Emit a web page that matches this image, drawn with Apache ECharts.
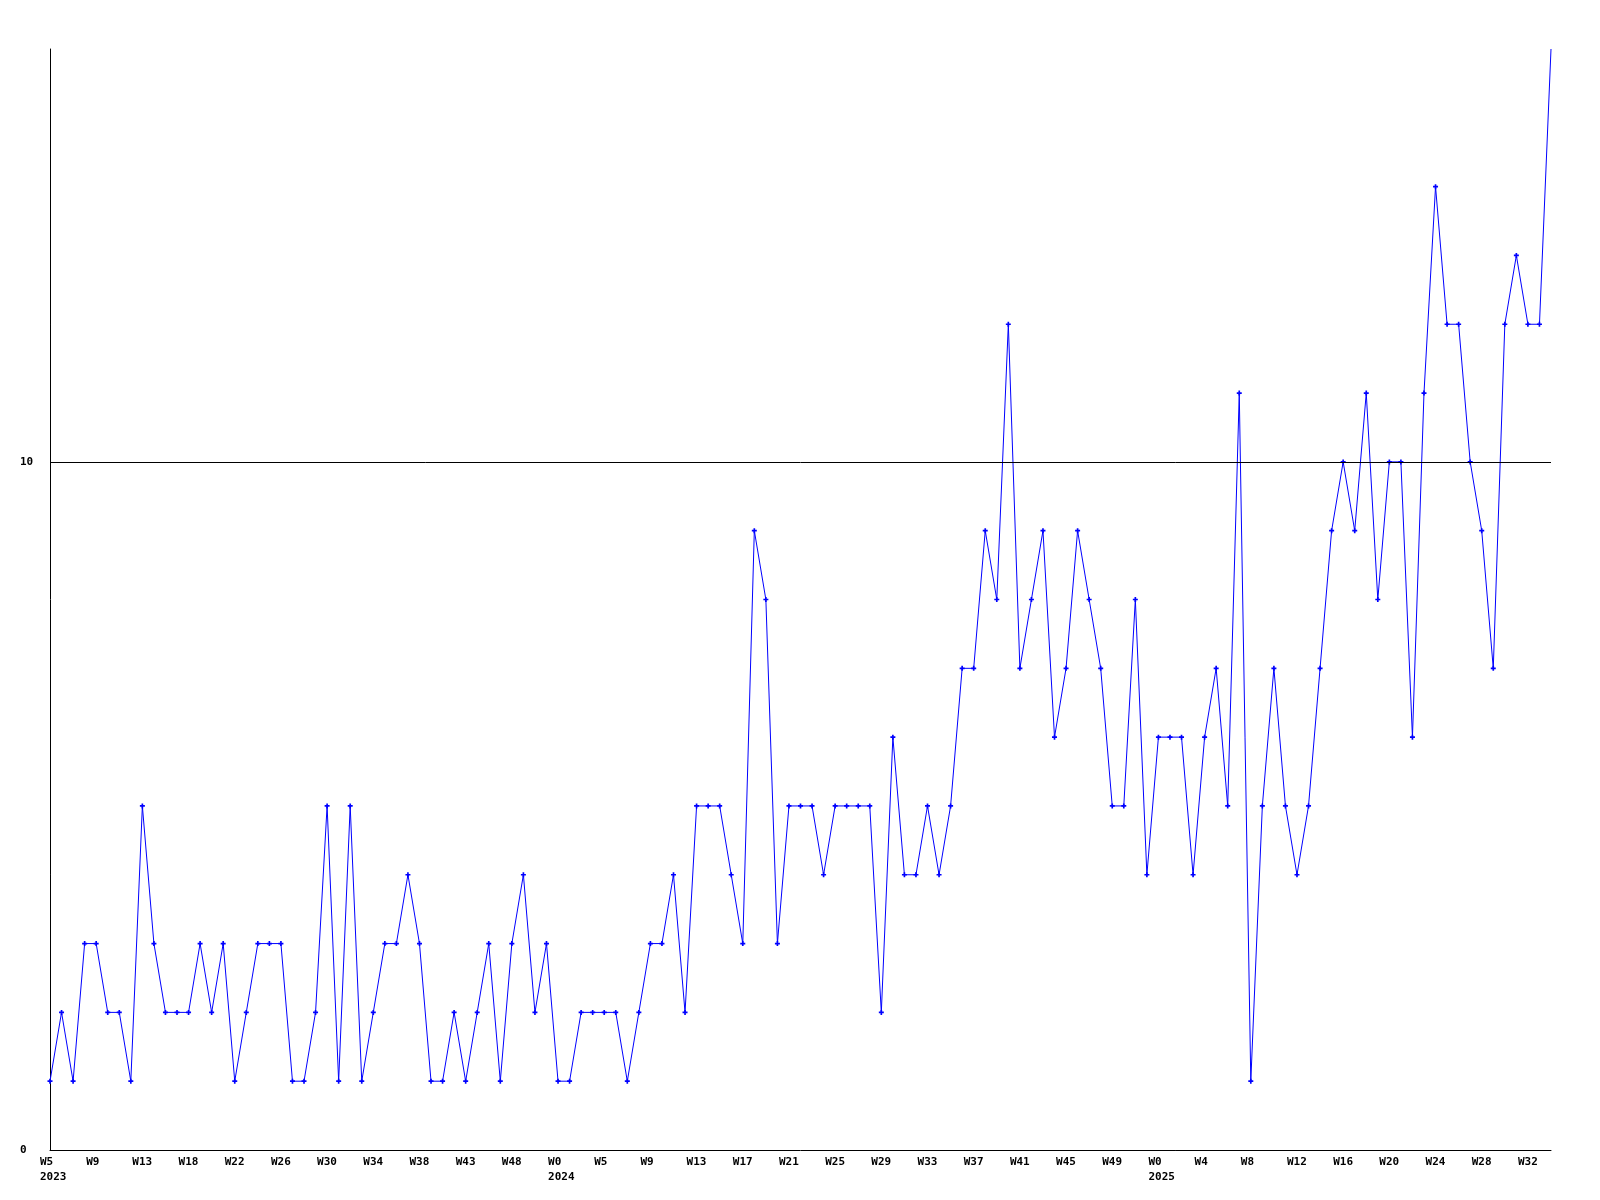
<!DOCTYPE html>
<html>
<head>
<meta charset="utf-8">
<script src="https://cdn.jsdelivr.net/npm/echarts@6/dist/echarts.min.js"></script>
<style>
html,body{margin:0;padding:0;background:#fff;}
#chart{width:1600px;height:1200px;}
</style>
</head>
<body>
<div id="chart"></div>
<script>
// Categories (year-week); only every 4th is labelled in the reference
const weeks = [
 '2023-W5','2023-W6','2023-W7','2023-W8','2023-W9','2023-W10','2023-W11','2023-W12',
 '2023-W13','2023-W14','2023-W15','2023-W17','2023-W18','2023-W19','2023-W20','2023-W21',
 '2023-W22','2023-W23','2023-W24','2023-W25','2023-W26','2023-W27','2023-W28','2023-W29',
 '2023-W30','2023-W31','2023-W32','2023-W33','2023-W34','2023-W35','2023-W36','2023-W37',
 '2023-W38','2023-W39','2023-W40','2023-W42','2023-W43','2023-W44','2023-W45','2023-W47',
 '2023-W48','2023-W49','2023-W50','2023-W51','2024-W0','2024-W1','2024-W2','2024-W3',
 '2024-W5','2024-W6','2024-W7','2024-W8','2024-W9','2024-W10','2024-W11','2024-W12',
 '2024-W13','2024-W14','2024-W15','2024-W16','2024-W17','2024-W18','2024-W19','2024-W20',
 '2024-W21','2024-W22','2024-W23','2024-W24','2024-W25','2024-W26','2024-W27','2024-W28',
 '2024-W29','2024-W30','2024-W31','2024-W32','2024-W33','2024-W34','2024-W35','2024-W36',
 '2024-W37','2024-W38','2024-W39','2024-W40','2024-W41','2024-W42','2024-W43','2024-W44',
 '2024-W45','2024-W46','2024-W47','2024-W48','2024-W49','2024-W50','2024-W51','2024-W52',
 '2025-W0','2025-W1','2025-W2','2025-W3','2025-W4','2025-W5','2025-W6','2025-W7',
 '2025-W8','2025-W9','2025-W10','2025-W11','2025-W12','2025-W13','2025-W14','2025-W15',
 '2025-W16','2025-W17','2025-W18','2025-W19','2025-W20','2025-W21','2025-W22','2025-W23',
 '2025-W24','2025-W25','2025-W26','2025-W27','2025-W28','2025-W29','2025-W30','2025-W31',
 '2025-W32','2025-W33','2025-W34'
];

const values = [
 1,2,1,3,3,2,2,1, 5,3,2,2,2,3,2,3,
 1,2,3,3,3,1,1,2, 5,1,5,1,2,3,3,4,
 3,1,1,2,1,2,3,1, 3,4,2,3,1,1,2,2,
 2,2,1,2,3,3,4,2, 5,5,5,4,3,9,8,3,
 5,5,5,4,5,5,5,5, 2,6,4,4,5,4,5,7,
 7,9,8,12,7,8,9,6, 7,9,8,7,5,5,8,4,
 6,6,6,4,6,7,5,11, 1,5,7,5,4,5,7,9,
 10,9,11,8,10,10,6,11, 14,12,12,10,9,7,12,13,
 12,12,16
];

const yTicks = [0, 10];
const refLine = 10;

const FONT = 'DejaVu Sans Mono';
const chart = echarts.init(document.getElementById('chart'), null, {renderer: 'canvas'});
chart.setOption({
  animation: false,
  backgroundColor: '#ffffff',
  grid: {left: 50, right: 49, top: 49, bottom: 50, containLabel: false},
  xAxis: {
    type: 'category',
    data: weeks,
    boundaryGap: false,
    axisLine: {show: true, lineStyle: {color: '#000', width: 1}},
    axisTick: {show: false},
    splitLine: {show: false},
    axisLabel: {
      interval: function (i) { return i % 4 === 0; },
      align: 'center',
      margin: 5,
      color: '#000',
      fontFamily: FONT,
      fontWeight: 'bold',
      fontSize: 11,
      lineHeight: 15,
      formatter: function (v, i) {
        const parts = v.split('-');
        let s = '{a|' + parts[1] + '}';
        if (i === 0 || parts[1] === 'W0') s += '\n{a|' + parts[0] + '}';
        return s;
      },
      rich: {
        a: {width: 20, align: 'left', fontFamily: FONT, fontWeight: 'bold', fontSize: 11, lineHeight: 15, color: '#000'}
      }
    }
  },
  yAxis: {
    type: 'value',
    min: yTicks[0],
    max: 16,
    interval: yTicks[1] - yTicks[0],
    axisLine: {show: true, lineStyle: {color: '#000', width: 1}},
    axisTick: {show: false},
    splitLine: {show: false},
    axisLabel: {
      showMaxLabel: false,
      align: 'left',
      margin: 30,
      color: '#000',
      fontFamily: FONT,
      fontWeight: 'bold',
      fontSize: 11
    }
  },
  series: [{
    type: 'line',
    data: values.map(function (v, i) {
      return i === values.length - 1 ? {value: v, symbol: 'none'} : v;
    }),
    showAllSymbol: true,
    symbol: 'path://M1,0H2V1H3V2H2V3H1V2H0V1H1Z',
    symbolSize: 5,
    itemStyle: {color: '#0000ff'},
    lineStyle: {color: '#0000ff', width: 1},
    markLine: {
      silent: true,
      symbol: 'none',
      label: {show: false},
      lineStyle: {color: '#000', width: 1, type: 'solid'},
      data: [{yAxis: refLine}]
    }
  }]
});
</script>
</body>
</html>
